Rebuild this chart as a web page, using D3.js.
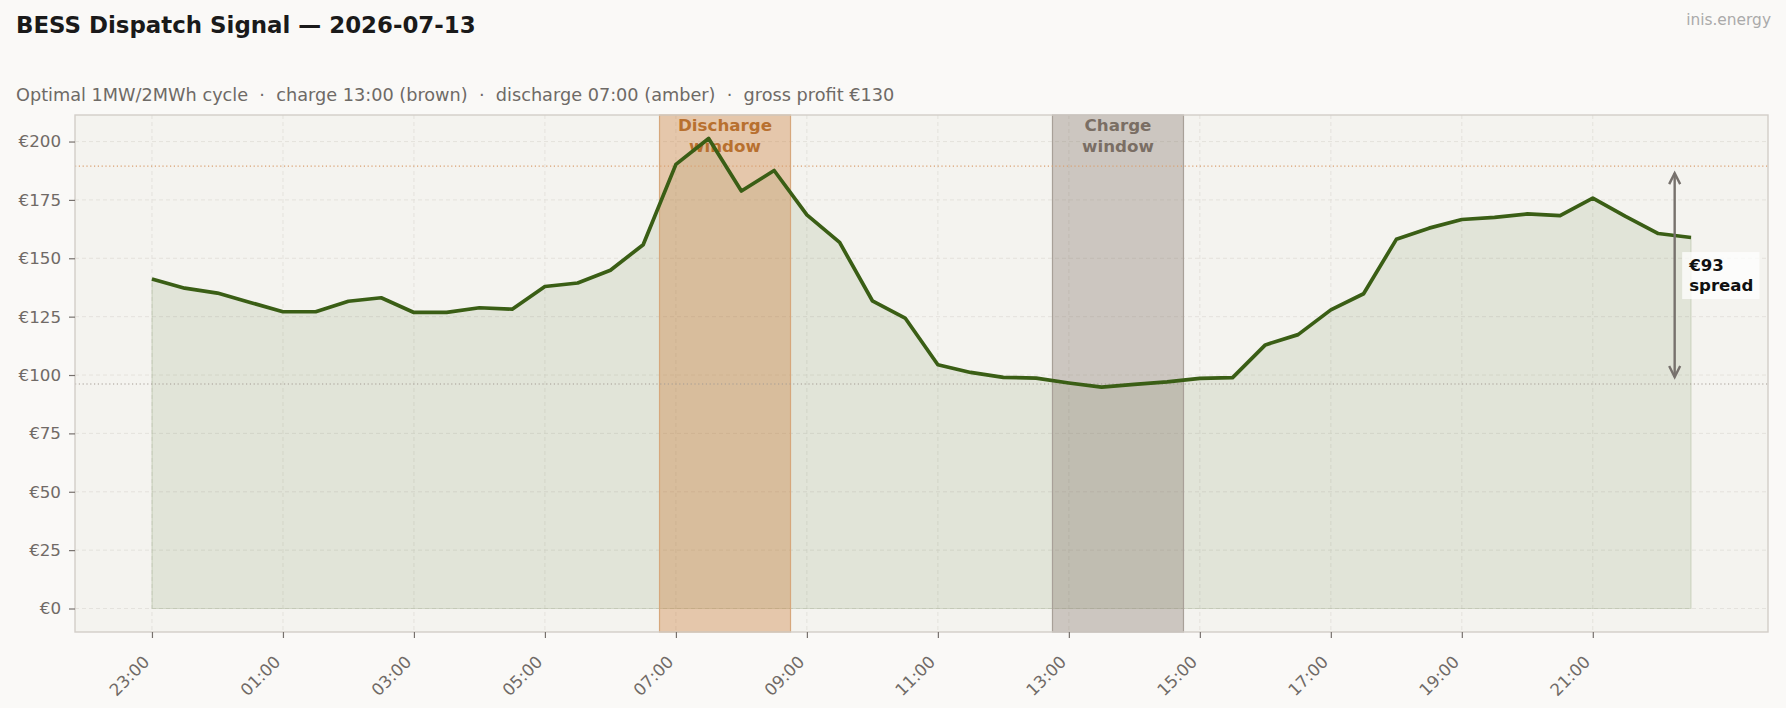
<!DOCTYPE html>
<html>
<head>
<meta charset="utf-8">
<script src="https://cdn.jsdelivr.net/npm/d3@7"></script>
<style>
  html, body { margin: 0; padding: 0; background: #faf9f7; }
  svg { display: block; font-family: "DejaVu Sans", sans-serif; }
  text { white-space: pre; }
</style>
</head>
<body>
<svg id="chart" width="1786" height="708"></svg>
<script>
// half-hourly day-ahead prices, EUR/MWh, starting 23:00 the evening before
const slotLabels = [
    "23:00", "23:30", "00:00", "00:30", "01:00", "01:30", "02:00", "02:30",
    "03:00", "03:30", "04:00", "04:30", "05:00", "05:30", "06:00", "06:30",
    "07:00", "07:30", "08:00", "08:30", "09:00", "09:30", "10:00", "10:30",
    "11:00", "11:30", "12:00", "12:30", "13:00", "13:30", "14:00", "14:30",
    "15:00", "15:30", "16:00", "16:30", "17:00", "17:30", "18:00", "18:30",
    "19:00", "19:30", "20:00", "20:30", "21:00", "21:30", "22:00", "22:30"
];
const prices = [
    141.1, 137.2, 135.1, 131.1, 127.1, 127.1, 131.6, 133.1,
    126.8, 126.8, 128.8, 128.2, 137.9, 139.4, 144.9, 155.8,
    190.2, 201.3, 178.8, 187.6, 168.6, 156.8, 131.8, 124.4,
    104.4, 101.1, 99.0, 98.7, 96.6, 94.8, 96.0, 97.1,
    98.6, 98.9, 112.9, 117.3, 127.9, 134.8, 158.1, 162.9,
    166.6, 167.5, 169.0, 168.3, 175.8, 167.9, 160.6, 158.9
];
const xTickLabels = ["23:00", "01:00", "03:00", "05:00", "07:00", "09:00", "11:00",
    "13:00", "15:00", "17:00", "19:00", "21:00"];
const yTickValues = [0, 25, 50, 75, 100, 125, 150, 175, 200];
const dischargeStart = "07:00";
const chargeStart = "13:00";
const windowHours = 2;

const titleText = "BESS Dispatch Signal \u2014 2026-07-13";
const subtitleText = "Optimal 1MW/2MWh cycle  \u00b7  charge 13:00 (brown)  \u00b7  discharge 07:00 (amber)  \u00b7  gross profit \u20ac130";
const brandText = "inis.energy";

// hours after 23:00
function toOffset(label) {
    var parts = label.split(":").map(Number);
    return ((parts[0] - 23 + 24) % 24) + parts[1] / 60;
}

var data = slotLabels.map((t, i) => ({ t: toOffset(t), v: prices[i] }));

var svg = d3.select("#chart"),
    margin = { top: 115, right: 18, bottom: 76, left: 75 },
    width = +svg.attr("width") - margin.left - margin.right,
    height = +svg.attr("height") - margin.top - margin.bottom;

var tMax = d3.max(data, d => d.t),
    vMax = d3.max(data, d => d.v);

// matplotlib-like 5% margins
var x = d3.scaleLinear()
    .domain([-0.05 * tMax, tMax * 1.05])
    .range([0, width]);
var y = d3.scaleLinear()
    .domain([-0.05 * vMax, vMax * 1.05])
    .range([height, 0]);

// header texts
svg.append("text")
    .attr("x", 16).attr("y", 33)
    .attr("font-size", 22.9).attr("font-weight", "bold")
    .attr("fill", "#1a1a1a")
    .text(titleText);
svg.append("text")
    .attr("x", 16).attr("y", 101)
    .attr("font-size", 17.7)
    .attr("fill", "#6e6a66")
    .text(subtitleText);
svg.append("text")
    .attr("x", 1771).attr("y", 25)
    .attr("text-anchor", "end")
    .attr("font-size", 15.4)
    .attr("fill", "#aaaaaa")
    .text(brandText);

var g = svg.append("g").attr("transform", "translate(" + margin.left + "," + margin.top + ")");

g.append("rect")
    .attr("width", width).attr("height", height)
    .attr("fill", "#f4f3ef");

// grid
var grid = g.append("g").attr("stroke", "#e2e0da").attr("stroke-width", 0.9).attr("stroke-dasharray", "4,3");
grid.selectAll(".hgrid").data(yTickValues).enter().append("line")
    .attr("x1", 0).attr("x2", width)
    .attr("y1", d => y(d)).attr("y2", d => y(d));
grid.selectAll(".vgrid").data(xTickLabels).enter().append("line")
    .attr("y1", 0).attr("y2", height)
    .attr("x1", d => x(toOffset(d))).attr("x2", d => x(toOffset(d)));

// price area + edge
var area = d3.area().x(d => x(d.t)).y0(y(0)).y1(d => y(d.v));
g.append("path")
    .datum(data)
    .attr("d", area)
    .attr("fill", "rgba(59,95,23,0.1)")
    .attr("stroke", "rgba(59,95,23,0.14)")
    .attr("stroke-width", 1.2);

// dispatch windows (centred on the half-hour slots)
function windowAvg(start) {
    var t0 = toOffset(start);
    var inside = data.filter(d => d.t >= t0 && d.t < t0 + windowHours);
    return d3.mean(inside, d => d.v);
}

var windows = [
    { start: dischargeStart, label: ["Discharge", "window"], fill: "rgba(200,117,47,0.35)", edge: "#d6a77c", text: "#b8702f", avgColor: "#d9a071" },
    { start: chargeStart, label: ["Charge", "window"], fill: "rgba(135,122,110,0.37)", edge: "#a8a098", text: "#7a6e64", avgColor: "#a39b94" }
];
windows.forEach(w => {
    var t0 = toOffset(w.start) - 0.25;
    w.avg = windowAvg(w.start);
    g.append("rect")
        .attr("x", x(t0)).attr("y", 0)
        .attr("width", x(t0 + windowHours) - x(t0))
        .attr("height", height)
        .attr("fill", w.fill)
        .attr("stroke", w.edge).attr("stroke-width", 1.2);
    var lbl = g.append("text")
        .attr("x", x(t0 + windowHours / 2))
        .attr("text-anchor", "middle")
        .attr("font-size", 16.7).attr("font-weight", "bold")
        .attr("fill", w.text);
    lbl.selectAll("tspan").data(w.label).enter().append("tspan")
        .attr("x", x(t0 + windowHours / 2))
        .attr("y", (d, i) => 16 + i * 20.5)
        .text(d => d);
});

// average price reference lines
windows.forEach(w => {
    g.append("line")
        .attr("x1", 0).attr("x2", width)
        .attr("y1", y(w.avg)).attr("y2", y(w.avg))
        .attr("stroke", w.avgColor).attr("stroke-width", 1.1)
        .attr("stroke-dasharray", "1.2,2.6");
});

// price line
var line = d3.line().x(d => x(d.t)).y(d => y(d.v));
g.append("path")
    .datum(data)
    .attr("d", line)
    .attr("fill", "none")
    .attr("stroke", "#3a5e15")
    .attr("stroke-width", 3.7)
    .attr("stroke-linejoin", "round");

// spread arrow
var hi = windows[0].avg, lo = windows[1].avg;
var ax = x(tMax - 0.25), yTop = y(hi) + 7, yBot = y(lo) - 7;
var arrow = g.append("g").attr("stroke", "#77716d").attr("stroke-width", 2.4).attr("fill", "none");
arrow.append("line").attr("x1", ax).attr("x2", ax).attr("y1", yTop).attr("y2", yBot);
arrow.append("path").attr("d", `M${ax - 5.5},${yTop + 11}L${ax},${yTop}L${ax + 5.5},${yTop + 11}`);
arrow.append("path").attr("d", `M${ax - 5.5},${yBot - 11}L${ax},${yBot}L${ax + 5.5},${yBot - 11}`);

var ymid = y((hi + lo) / 2);
var boxG = g.append("g");
var box = boxG.append("rect").attr("fill", "rgba(255,255,255,0.75)");
var note = boxG.append("text")
    .attr("font-size", 16.6).attr("font-weight", "bold")
    .attr("fill", "#111111");
note.selectAll("tspan").data(["\u20ac" + Math.round(hi - lo), "spread"]).enter().append("tspan")
    .attr("x", ax + 14.5)
    .attr("y", (d, i) => ymid - 4 + i * 20)
    .text(d => d);
var bb = note.node().getBBox();
box.attr("x", bb.x - 6).attr("y", bb.y - 4).attr("width", bb.width + 12).attr("height", bb.height + 8);

// frame
g.append("rect")
    .attr("width", width).attr("height", height)
    .attr("fill", "none")
    .attr("stroke", "#d2cec8").attr("stroke-width", 1.4);

// y axis
var yAxis = g.append("g")
    .call(d3.axisLeft(y).tickValues(yTickValues).tickSize(6).tickPadding(8).tickFormat(d => "\u20ac" + d));
yAxis.select(".domain").remove();
yAxis.selectAll("line").attr("stroke", "#77716d").attr("stroke-width", 1.2);
yAxis.selectAll("text").attr("font-size", 16.7).attr("fill", "#706a66").attr("font-family", "DejaVu Sans");

// x axis with rotated labels
var xAxis = g.append("g")
    .attr("transform", "translate(0," + height + ")")
    .call(d3.axisBottom(x).tickValues(xTickLabels.map(toOffset)).tickSize(6)
        .tickFormat((d, i) => xTickLabels[i]));
xAxis.select(".domain").remove();
xAxis.selectAll("line").attr("stroke", "#77716d").attr("stroke-width", 1.2);
xAxis.selectAll("text")
    .attr("font-size", 16.7).attr("fill", "#706a66").attr("font-family", "DejaVu Sans")
    .attr("y", 0).attr("dy", 0)
    .style("text-anchor", "end")
    .attr("transform", "translate(-2,31) rotate(-45)");
</script>
</body>
</html>
